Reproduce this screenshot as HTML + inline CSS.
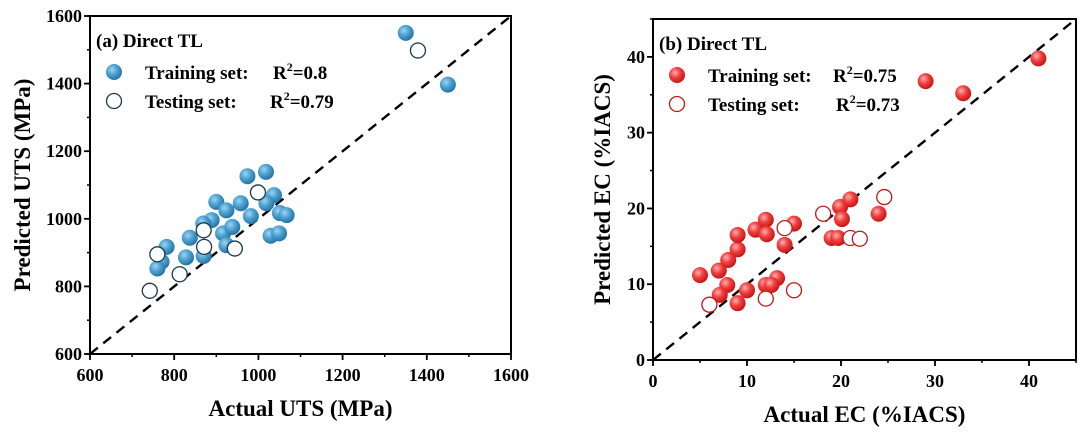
<!DOCTYPE html>
<html><head><meta charset="utf-8"><style>
html,body{margin:0;padding:0;background:#fff;}
svg{display:block;font-family:"Liberation Serif","Noto Serif CJK SC",serif;font-weight:bold;}
</style></head><body>
<svg id="chart" width="1080" height="438" viewBox="0 0 1080 438" xmlns="http://www.w3.org/2000/svg">
<defs>
<radialGradient id="gBlue" cx="0.38" cy="0.35" r="0.7"><stop offset="0" stop-color="#9fd3f0"/><stop offset="0.45" stop-color="#4ea3d3"/><stop offset="1" stop-color="#1f6e9e"/></radialGradient>
<radialGradient id="gRed" cx="0.38" cy="0.35" r="0.7"><stop offset="0" stop-color="#ffb0b0"/><stop offset="0.45" stop-color="#f04040"/><stop offset="1" stop-color="#c01010"/></radialGradient>
</defs>
</svg>
<script>
// Panel (a) data
const utsTrainActual = [1350,1450,974,1018,1037,1019,900,924,958,982,1051,1067,889,869,916,938,924,1029,1049,837,782,828,870,770,760];
const utsTrainPred   = [1550,1397,1126,1139,1070,1046,1050,1025,1046,1008,1017,1011,996,986,957,976,922,950,957,944,917,886,890,873,853];
const utsTestActual  = [1379,999,870,871,944,760,813,742];
const utsTestPred    = [1498,1078,966,917,912,895,836,787];
const utsTicks = [600,800,1000,1200,1400,1600];
// Panel (b) data
const ecTrainActual = [41,29,33,5,7,8,9,9,7.9,7.1,9,10,10.9,12,12.1,12,13.2,12.6,14,15,19,19.7,19.9,20.1,21,24];
const ecTrainPred   = [39.8,36.8,35.2,11.2,11.8,13.2,14.6,16.5,9.9,8.6,7.5,9.2,17.2,18.5,16.6,9.9,10.8,9.9,15.2,18,16.1,16.1,20.2,18.6,21.2,19.3];
const ecTestActual  = [18.1,14,21,22,24.6,6,12,15];
const ecTestPred    = [19.3,17.4,16.1,16,21.5,7.3,8.1,9.2];
const ecTicks = [0,10,20,30,40];

const svg = document.getElementById('chart');
const NS = 'http://www.w3.org/2000/svg';
function mk(tag, attrs, parent){
  const e = document.createElementNS(NS, tag);
  for (const k in attrs) e.setAttribute(k, attrs[k]);
  (parent||svg).appendChild(e);
  return e;
}

function panel(o){
  const g = mk('g', {});
  
  
  const sx = v => o.x0 + (v - o.min) / (o.max - o.min) * (o.x1 - o.x0);
  const sy = v => o.y0 - (v - o.min) / (o.max - o.min) * (o.y0 - o.y1);
  const d = mk('line', {x1:sx(o.min), y1:sy(o.min), x2:sx(o.max), y2:sy(o.max), stroke:'#000', 'stroke-width':2.4, 'stroke-dasharray':'10,7'}, g);
  
  
  for (let v = o.min; v <= o.max + 1e-9; v += o.minor) {
    mk('line', {x1:sx(v), y1:o.y0, x2:sx(v), y2:o.y0+3, stroke:'#000','stroke-width':1.5}, g);
    mk('line', {x1:o.x0, y1:sy(v), x2:o.x0-3, y2:sy(v), stroke:'#000','stroke-width':1.5}, g);
  }
  o.ticks.forEach(v => {
    mk('line', {x1:sx(v), y1:o.y0, x2:sx(v), y2:o.y0+6, stroke:'#000','stroke-width':1.8}, g);
    mk('line', {x1:o.x0, y1:sy(v), x2:o.x0-6, y2:sy(v), stroke:'#000','stroke-width':1.8}, g);
    const xt = mk('text', {x:sx(v), y:o.y0+27, 'text-anchor':'middle', 'font-size':18}, g);
    xt.textContent = v;
    
    
    const yt = mk('text', {x:o.x0-8, y:sy(v)+6, 'text-anchor':'end', 'font-size':18}, g);
    yt.textContent = v;
    
    
  });
  o.trainX.forEach((v,i) => {
    const c = mk('circle', {cx:sx(v), cy:sy(o.trainY[i]), r:8, fill:o.grad, stroke:'none'}, g);
    
    
  });
  o.testX.forEach((v,i) => {
    const c = mk('circle', {cx:sx(v), cy:sy(o.testY[i]), r:7.5, fill:'#fff', stroke:o.edge, 'stroke-width':1.3}, g);
    
    
  });
  const f = mk('rect', {x:o.x0, y:o.y1, width:o.x1-o.x0, height:o.y0-o.y1, fill:'none', stroke:'#000','stroke-width':2}, g);
  
  
  const xt = mk('text', {x:(o.x0+o.x1)/2, y:o.y0+62, 'text-anchor':'middle','font-size':23}, g);
  xt.textContent = o.xTitle;
  
  
  const yt = mk('text', {x:0, y:0, 'text-anchor':'middle','font-size':23, transform:`translate(${o.yTitleX},${(o.y0+o.y1)/2}) rotate(-90)`}, g);
  yt.textContent = o.yTitle;
  
  
  const pt = mk('text', {x:o.x0+6, y:o.y1+31, 'font-size':19}, g);
  pt.textContent = o.label;
  
  
  const lg = mk('g', {}, g);
  
  
  const m1 = mk('circle', {cx:o.x0+24, cy:o.y1+56, r:8, fill:o.grad}, lg);
  
  
  const m2 = mk('circle', {cx:o.x0+24, cy:o.y1+85, r:7.5, fill:'#fff', stroke:o.edge,'stroke-width':1.3}, lg);
  
  
  const t1 = mk('text', {x:o.x0+55, y:o.y1+63, 'font-size':19}, lg);
  t1.textContent = 'Training set:';
  
  
  const r1 = mk('text', {x:o.r1x, y:o.y1+63, 'font-size':19}, lg);
  r1.innerHTML = 'R<tspan dy="-8" font-size="12">2</tspan><tspan dy="8">=' + o.r2a + '</tspan>';
  
  
  const t2 = mk('text', {x:o.x0+55, y:o.y1+92, 'font-size':19}, lg);
  t2.textContent = 'Testing set:';
  
  
  const r2 = mk('text', {x:o.r2x, y:o.y1+92, 'font-size':19}, lg);
  r2.innerHTML = 'R<tspan dy="-8" font-size="12">2</tspan><tspan dy="8">=' + o.r2b + '</tspan>';
  
  
}

panel({name:'panel-a-uts', x0:90, x1:511, y0:354, y1:16, min:600, max:1600, minor:100, ticks:utsTicks,
  trainX:utsTrainActual, trainY:utsTrainPred, testX:utsTestActual, testY:utsTestPred,
  grad:'url(#gBlue)', edge:'#1a3a4a', xTitle:'Actual UTS (MPa)', yTitle:'Predicted UTS (MPa)', yTitleX:30,
  label:'(a) Direct TL', r1x:273, r2x:270, r2a:'0.8', r2b:'0.79'});
panel({name:'panel-b-ec', x0:653, x1:1076, y0:360, y1:19, min:0, max:45, minor:5, ticks:ecTicks,
  trainX:ecTrainActual, trainY:ecTrainPred, testX:ecTestActual, testY:ecTestPred,
  grad:'url(#gRed)', edge:'#c01818', xTitle:'Actual EC (%IACS)', yTitle:'Predicted EC (%IACS)', yTitleX:610,
  label:'(b) Direct TL', r1x:833, r2x:836, r2a:'0.75', r2b:'0.73'});
</script>
</body></html>
